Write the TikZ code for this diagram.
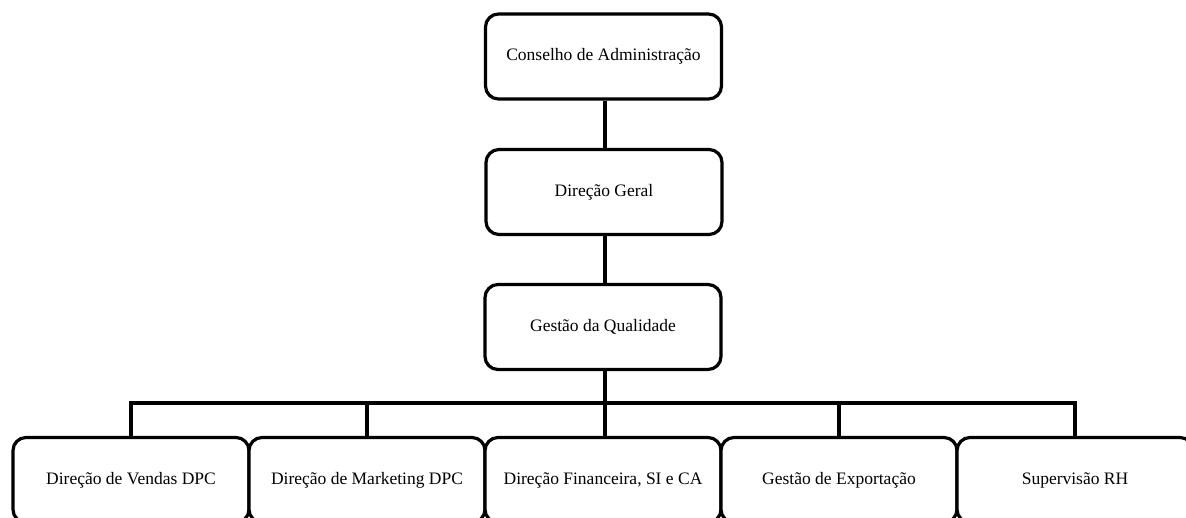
\documentclass[tikz,border=0pt]{standalone}
\usepackage{fontspec}
\setmainfont{Liberation Serif}
\begin{document}
\begin{tikzpicture}[x=1pt,y=-1pt,
  box/.style={draw=black,line width=3.2pt,rounded corners=13pt,fill=white,
    minimum width=236pt,minimum height=85pt,inner sep=0pt,
    font=\fontsize{17.5}{21}\selectfont},
  link/.style={draw=black,line width=3.2pt}]
\useasboundingbox (0,0) rectangle (1186,517);
\clip (0,0) rectangle (1186,517);
\fill[white] (0,0) rectangle (1186,517);
\node[box] (n1) at (603.5,56.5) {Conselho de Administração};
\node[box] (n2) at (604,192) {Direção Geral};
\node[box] (n3) at (603,327) {Gestão da Qualidade};
\coordinate (bus) at (605,403);
\node[box] (b1) at (131,480) {Direção de Vendas DPC};
\node[box] (b2) at (367,480) {Direção de Marketing DPC};
\node[box] (b3) at (603,480) {Direção Financeira, SI e CA};
\node[box] (b4) at (839,480) {Gestão de Exportação};
\node[box] (b5) at (1075,480) {Supervisão RH};
\draw[link] (n1.south -| bus) -- (n2.north -| bus);
\draw[link] (n2.south -| bus) -- (n3.north -| bus);
\draw[link] (n3.south -| bus) -- (b3.north -| bus);
\draw[link] (b1.north) |- (b5.north |- bus) -- (b5.north);
\draw[link] (b2.north) -- (b2.north |- bus);
\draw[link] (b4.north) -- (b4.north |- bus);
\end{tikzpicture}
\end{document}
